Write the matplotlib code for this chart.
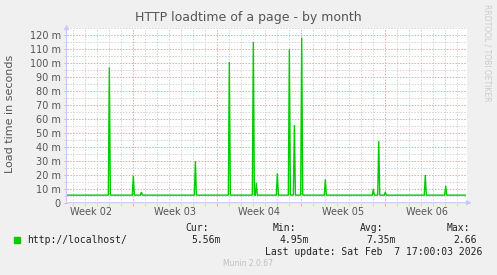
import matplotlib
matplotlib.use('Agg')
import matplotlib.pyplot as plt

# days counted from Monday of week 02 (Jan 5 2026)
spike_day = [5.0, 7.0, 7.67, 12.17, 15.0, 17.0, 17.25, 19.0, 20.0, 20.42, 21.03,
             23.0, 27.0, 27.45, 28.0, 31.33, 33.03]
spike_ms = [96.7, 19.3, 7.6, 29.6, 100.5, 114.8, 14.3, 21.0, 109.6, 55.5, 117.9,
            16.7, 9.6, 44.0, 7.6, 19.8, 11.9]
base_ms = 5.4
first_day, last_day = 1.43, 34.67

week_pos = [3.5, 10.5, 17.5, 24.5, 31.5]
week_names = ['Week 02', 'Week 03', 'Week 04', 'Week 05', 'Week 06']
week_bounds = [7, 14, 21, 28]
ytick_vals = [0, 10, 20, 30, 40, 50, 60, 70, 80, 90, 100, 110, 120]
ytick_labels = ['0'] + ['%d m' % v for v in ytick_vals[1:]]

legend_label = 'http://localhost/'
stat_names = ['Cur:', 'Min:', 'Avg:', 'Max:']
stat_vals = ['5.56m', '4.95m', '7.35m', '2.66']

# vertices of the line: flat baseline with a thin peak at every spike
xs = [first_day]
ys = [base_ms]
for d, v in zip(spike_day, spike_ms):
    xs += [d - 0.085, d, d + 0.085]
    ys += [base_ms, v, base_ms]
xs.append(last_day)
ys.append(base_ms)

W, H = 497.0, 275.0
bg = '#f0f0f0'
txt = '#555555'
axc = '#c8c8ff'

fig = plt.figure(figsize=(W / 100, H / 100), dpi=100, facecolor=bg)
x0, x1, y0, y1 = 66.5, 467.3, 202.7, 27.7
ax = fig.add_axes([x0 / W, 1 - y0 / H, (x1 - x0) / W, (y0 - y1) / H])
ax.set_facecolor('white')
ax.set_xlim(1.43, 34.83)
ax.set_ylim(0, 125)

ax.set_xticks(week_bounds)
ax.set_xticks(range(2, 35), minor=True)
ax.set_xticklabels([])
ax.set_yticks(ytick_vals)
ax.set_yticklabels(ytick_labels, fontsize=7, color=txt)
ax.set_yticks(range(5, 126, 10), minor=True)

dots = (0, (1.5, 1.5))
ax.grid(which='minor', color='#d4d4d4', linestyle=dots, lw=0.7)
ax.grid(which='major', color='#e6a6a6', linestyle=dots, lw=0.7)
ax.set_axisbelow(True)
ax.tick_params(which='both', length=2, width=0.7, pad=2)
ax.tick_params(axis='x', which='minor', color='#d4d4d4')
ax.tick_params(axis='x', which='major', color='#e6a6a6')
ax.tick_params(axis='y', which='minor', color='#d4d4d4')
ax.tick_params(axis='y', which='major', color='#e6a6a6')
for s in ax.spines.values():
    s.set_visible(False)

ax.plot(xs, ys, color='#00cc00', lw=1.0, solid_joinstyle='miter')

# axis lines with arrows
ax.annotate('', xy=(1 + 7 / (x1 - x0), 0), xytext=(-2 / (x1 - x0), 0),
            xycoords='axes fraction',
            arrowprops=dict(arrowstyle='-|>', color=axc, lw=0.8, mutation_scale=7))
ax.annotate('', xy=(0, 1 + 6 / (y0 - y1)), xytext=(0, -2 / (y0 - y1)),
            xycoords='axes fraction',
            arrowprops=dict(arrowstyle='-|>', color=axc, lw=0.8, mutation_scale=7))

tr = ax.get_xaxis_transform()
for p, n in zip(week_pos, week_names):
    ax.text(p, -9.5 / (y0 - y1), n, transform=tr, ha='center', va='center',
            fontsize=7, color=txt)

fig.text(248.5 / W, 1 - 18 / H, 'HTTP loadtime of a page - by month',
         ha='center', va='center', fontsize=9, color=txt)
fig.text(10 / W, 1 - 114 / H, 'Load time in seconds', rotation=90,
         ha='center', va='center', fontsize=8, color=txt)
fig.text(487.5 / W, 1 - 53 / H, 'RRDTOOL / TOBI OETIKER', rotation=270,
         ha='center', va='center', fontsize=5.5, color='#cccccc')

mono = 'DejaVu Sans Mono'
fig.patches.append(plt.Rectangle((14 / W, 1 - 243 / H), 6 / W, 6 / H,
                                 transform=fig.transFigure, color='#00cc00'))
fig.text(27 / W, 1 - 240 / H, legend_label, family=mono, fontsize=7,
         ha='left', va='center', color='#222222')
name_x = [185.3, 272.7, 360.0, 446.7]
val_x = [221.0, 308.7, 396.0, 476.7]
for nx, vx, n, v in zip(name_x, val_x, stat_names, stat_vals):
    fig.text(nx / W, 1 - 227.7 / H, n, family=mono, fontsize=7,
             ha='left', va='center', color='#222222')
    fig.text(vx / W, 1 - 240 / H, v, family=mono, fontsize=7,
             ha='right', va='center', color='#222222')
fig.text(482.7 / W, 1 - 251.7 / H, 'Last update: Sat Feb  7 17:00:03 2026',
         family=mono, fontsize=7, ha='right', va='center', color='#222222')
fig.text(248 / W, 1 - 263.3 / H, 'Munin 2.0.67', fontsize=5.5,
         ha='center', va='center', color='#c0c0c0')

fig.savefig('out.png', dpi=100, facecolor=bg)
